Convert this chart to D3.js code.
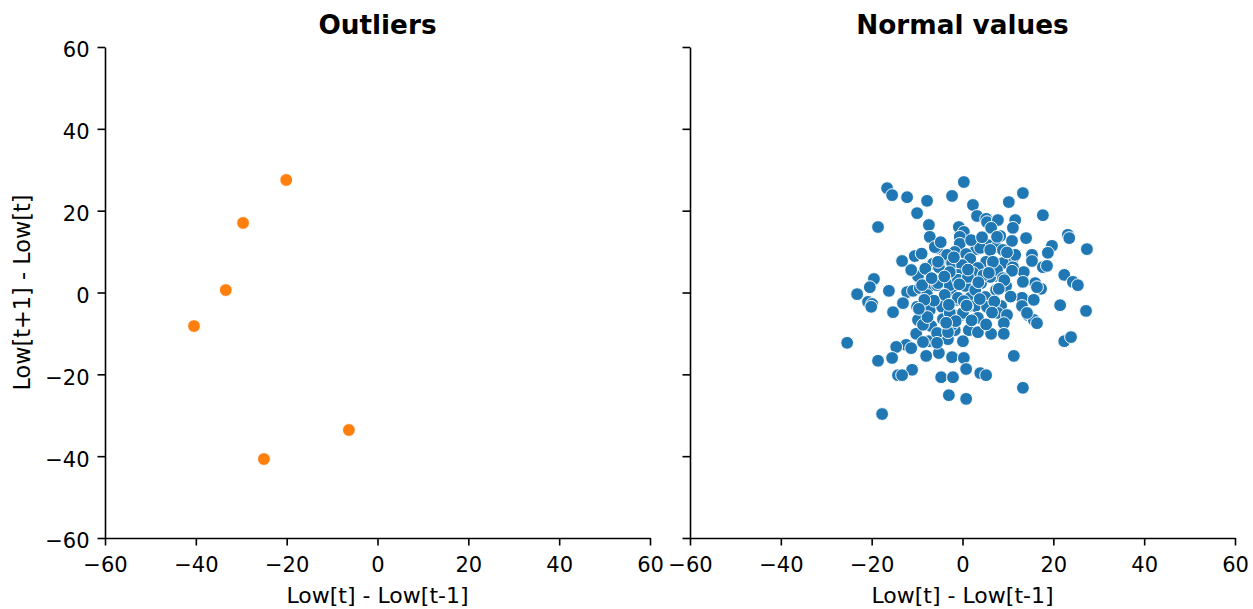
<!DOCTYPE html>
<html>
<head>
<meta charset="utf-8">
<script src="https://cdn.jsdelivr.net/npm/d3@7.9.0/dist/d3.min.js"></script>
<style>
  body { margin: 0; background: #fff; }
  svg text { font-family: "DejaVu Sans", sans-serif; fill: #000; }
</style>
</head>
<body>
<svg id="chart" width="1253" height="609"></svg>
<script>
// outliers: [Low[t]-Low[t-1], Low[t+1]-Low[t]]
const outlierX = [-40.4, -33.4, -29.6, -20.1, -25.0, -6.3];
const outlierY = [-8.2, 0.6, 17.0, 27.5, -40.7, -33.6];

// normal values
const normalX = [
  0.3, -16.6, -15.5, -12.2, -2.3, 13.3, 10.2, -7.8, 2.3, 3.2,
  5.2, 5.4, 17.7, 7.8, 11.6, -10.0, -18.6, -7.4, -0.8, 0.3,
  6.3, 11.1, 8.3, -7.2, 14.0, 23.2, 23.5, 10.9, 5.6, -0.6,
  -0.6, -5.6, 3.0, 19.7, 27.4, 18.8, 7.4, 8.9, -1.7, 0.8,
  1.7, -10.5, -13.3, -4.1, -3.4, -2.3, 11.1, 15.3, 15.3, 5.2,
  8.9, -6.5, -5.2, -0.1, 3.4, 6.7, 11.1, 17.7, 18.6, 22.4,
  24.3, 25.4, 16.0, 17.3, -9.8, -11.3, -1.0, 2.3, 7.8, 13.5,
  10.9, -19.5, -20.4, -16.2, -23.2, -12.2, -10.9, -7.6, -5.6, -3.4,
  -2.3, 0.6, 4.1, 7.4, 9.6, 13.1, 15.7, 21.5, 27.2, -20.8,
  -19.9, -20.1, -13.1, -10.0, -9.8, -7.2, -4.5, -1.2, 1.7, 5.0,
  2.8, 8.5, 13.1, 14.4, 15.7, 16.4, -15.3, -6.9, -4.3, -0.6,
  3.4, 7.8, 9.8, 9.1, 9.1, 6.3, 1.4, -1.7, -4.3, -10.2,
  -7.4, 0.1, -3.2, -12.4, -11.3, -14.6, -8.0, -5.2, -2.3, 0.3,
  11.3, 22.4, 23.9, -25.4, -18.6, -15.5, -11.1, 0.8, 3.9, 5.2,
  -14.2, -13.3, -4.7, -2.1, 13.3, -3.0, 0.8, -17.7, -6.1, -5.4,
  3.9, 6.1, -9.4, -7.8, -5.4, -2.8, -1.0, 1.2, 6.1, 7.6,
  -1.0, 1.0, 5.4, -2.1, -8.7, -2.3, -5.6, -3.2, 3.4, 7.6,
  6.7, 11.6, 13.3, 16.4, 14.2, 8.9, -8.9, -2.8, -8.7, -5.6,
  0.3, 0.1, -3.9, 2.8, 4.6, -6.3, 10.6,
  -9.0, -4.8, 1.9, 4.3, 9.8, -8.2, -2.8, 1.2, 5.8, 9.2,
  -8.4, -3.0, 3.8, 7.0, -7.7, -1.5, 5.2, -0.7, 3.5, -6.8,
  -3.6, 2.0, 6.5, -9.6, 0.9, -4.0, 8.0, -1.9
];
const normalY = [
  27.0, 25.5, 23.8, 23.3, 23.6, 24.3, 22.1, 22.4, 21.4, 18.7,
  18.0, 17.2, 18.9, 17.7, 17.7, 19.4, 16.0, 16.5, 16.0, 14.8,
  15.8, 15.8, 13.8, 13.6, 13.3, 14.1, 13.3, 12.6, 11.6, 13.6,
  11.9, 10.9, 10.6, 11.4, 10.6, 9.7, 11.1, 10.4, 9.9, 9.4,
  8.2, 8.9, 7.7, 8.4, 9.2, 7.2, 8.4, 9.2, 7.7, 7.5,
  7.2, 7.0, 6.2, 6.7, 6.0, 7.0, 6.2, 6.2, 6.5, 4.3,
  2.6, 1.8, 2.3, 0.9, 4.0, 5.5, 4.3, 4.8, 4.0, 5.0,
  5.3, 3.3, 1.3, 0.4, -0.4, 0.1, 0.4, 1.1, 1.8, 2.6,
  0.1, 1.6, 2.3, 0.6, 1.6, -1.3, -1.8, -3.1, -4.5, -2.3,
  -2.8, -3.5, -2.6, -3.5, -6.7, -4.3, -3.5, -1.8, -1.3, -1.1,
  -3.3, -3.3, -3.3, -5.5, -6.7, -7.5, -4.8, -8.2, -6.5, -5.7,
  -6.2, -5.0, -5.5, -7.5, -10.1, -10.1, -9.2, -9.2, -10.4, -10.1,
  -11.9, -11.9, -11.4, -12.8, -13.6, -13.3, -15.5, -14.8, -15.8, -16.0,
  -15.5, -11.9, -10.9, -12.3, -16.7, -16.0, -18.9, -18.7, -19.7, -20.2,
  -20.2, -20.2, -20.7, -20.7, -23.3, -25.1, -26.0, -29.7, 11.1, 7.5,
  10.9, 10.4, 1.1, -0.6, 2.3, 1.8, 3.1, 3.8, 3.8, 5.5,
  -1.3, -3.5, -3.5, -5.5, -7.9, -7.9, -9.9, -9.7, -9.7, 13.6,
  7.5, 9.2, 2.6, 1.3, -5.0, 3.5, 1.8, -5.0, -12.1, -12.3,
  -2.1, -5.0, -0.6, 0.6, 4.2, -2.0, -1.0,
  9.5, 12.3, 12.8, 13.5, 9.8, 5.8, 5.0, 5.6, 4.8, 3.0,
  -1.8, -3.0, -1.6, -2.2, -6.0, -7.0, -7.8, 2.0, 2.5, 3.5,
  -7.4, -6.8, -4.9, -4.0, -3.2, 3.9, 0.9, 8.6
];

const ticks = [-60, -40, -20, 0, 20, 40, 60];
const titles = ["Outliers", "Normal values"];
const xLabel = "Low[t] - Low[t-1]";
const yLabel = "Low[t+1] - Low[t]";

const svg = d3.select("#chart");
const plotTop = 47, plotBottom = 538;
const panels = [
  { left: 105, right: 650, xs: outlierX, ys: outlierY, color: "#ff7f0e", labels: true },
  { left: 690, right: 1235, xs: normalX, ys: normalY, color: "#1f77b4", labels: false }
];

const y = d3.scaleLinear().domain([-60, 60]).range([plotBottom, plotTop]);
const fmt = d => d < 0 ? "\u2212" + Math.abs(d) : String(d);

panels.forEach((p, i) => {
  const x = d3.scaleLinear().domain([-60, 60]).range([p.left, p.right]);
  const g = svg.append("g");

  const xa = g.append("g")
    .attr("transform", `translate(0,${plotBottom})`)
    .call(d3.axisBottom(x).tickValues(ticks).tickFormat(fmt)
      .tickSize(7.5).tickPadding(7).tickSizeOuter(0));
  xa.selectAll("text").attr("y", 33.5).attr("dy", null);

  const ya = g.append("g")
    .attr("transform", `translate(${p.left},0)`)
    .call(d3.axisLeft(y).tickValues(ticks).tickFormat(p.labels ? fmt : () => "")
      .tickSize(7.5).tickPadding(8).tickSizeOuter(0));
  ya.selectAll("text").attr("dy", "0.47em");

  [xa, ya].forEach(a => {
    a.selectAll("path, line").attr("stroke", "#000").attr("stroke-width", 1.6);
    a.selectAll("text").style("font-size", "21px")
      .style("font-family", "'DejaVu Sans', sans-serif").attr("fill", "#000");
  });

  g.append("g").selectAll("circle")
    .data(d3.range(p.xs.length))
    .join("circle")
    .attr("cx", k => x(p.xs[k]))
    .attr("cy", k => y(p.ys[k]))
    .attr("r", 6.4)
    .attr("fill", p.color)
    .attr("stroke", "#fff")
    .attr("stroke-width", 1);

  g.append("text")
    .attr("x", (p.left + p.right) / 2)
    .attr("y", 34)
    .attr("text-anchor", "middle")
    .style("font-size", "26.3px")
    .style("font-weight", "bold")
    .text(titles[i]);

  g.append("text")
    .attr("x", (p.left + p.right) / 2)
    .attr("y", 603)
    .attr("text-anchor", "middle")
    .style("font-size", "22px")
    .text(xLabel);
});

svg.append("text")
  .attr("transform", `translate(29.5,${(plotTop + plotBottom) / 2}) rotate(-90)`)
  .attr("text-anchor", "middle")
  .style("font-size", "22.4px")
  .text(yLabel);
</script>
</body>
</html>
